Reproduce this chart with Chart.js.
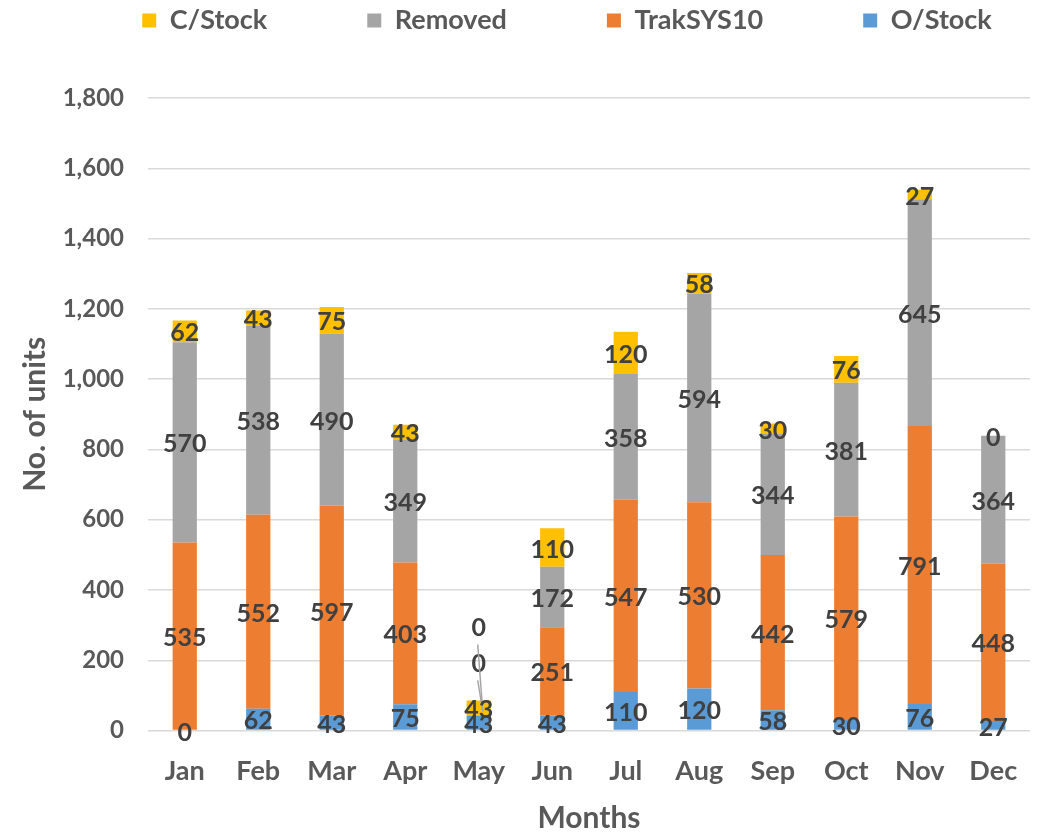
<!DOCTYPE html>
<html>
<head>
<meta charset="utf-8">
<script src="https://cdn.jsdelivr.net/npm/chart.js@4"></script>
<style>
  html, body { margin: 0; padding: 0; background: #fff; }
  #wrap { width: 1040px; height: 833px; }
</style>
</head>
<body>
<div id="wrap"><canvas id="chart" width="1040" height="833"></canvas></div>
<script>
const months = ['Jan', 'Feb', 'Mar', 'Apr', 'May', 'Jun', 'Jul', 'Aug', 'Sep', 'Oct', 'Nov', 'Dec'];
const oStock   = [0, 62, 43, 75, 43, 43, 110, 120, 58, 30, 76, 27];
const trakSys  = [535, 552, 597, 403, 0, 251, 547, 530, 442, 579, 791, 448];
const removed  = [570, 538, 490, 349, 0, 172, 358, 594, 344, 381, 645, 364];
const cStock   = [62, 43, 75, 43, 43, 110, 120, 58, 30, 76, 27, 0];
const yTicks   = [0, 200, 400, 600, 800, 1000, 1200, 1400, 1600, 1800];

const FONT = 'Lato, "Open Sans", sans-serif';
const TEXT = '#595959';
const LEGEND_PAD = 100;

// zero-height labels in May sit on top of each other, Excel lifts them with leader lines
const liftedLabels = { '1-4': 54, '2-4': 90 };

const segLabels = {
    id: 'segLabels',
    afterDatasetsDraw(chart) {
        const ctx = chart.ctx;
        ctx.save();
        ctx.font = 'bold 25px ' + FONT;
        ctx.fillStyle = '#404040';
        ctx.textAlign = 'center';
        ctx.textBaseline = 'middle';
        chart.data.datasets.forEach((ds, di) => {
            const meta = chart.getDatasetMeta(di);
            meta.data.forEach((bar, i) => {
                let y = (bar.y + bar.base) / 2 + 2;
                const lift = liftedLabels[di + '-' + i];
                if (lift) {
                    const ly = y - lift;
                    ctx.strokeStyle = '#a6a6a6';
                    ctx.lineWidth = 1.5;
                    ctx.beginPath();
                    ctx.moveTo(bar.x - 1, ly + 17);
                    ctx.lineTo(bar.x + 4, y - 6);
                    ctx.stroke();
                    y = ly;
                }
                ctx.fillText(ds.data[i], bar.x, y);
            });
        });
        ctx.restore();
    }
};

// big item spacing also pushes the legend down and wraps it, so keep one row,
// pull it back up and keep the gap to the plot
const legendSpacing = {
    id: 'legendSpacing',
    beforeInit(chart) {
        const fit = chart.legend.fit;
        chart.legend.fit = function () {
            this.maxWidth += 80;
            fit.call(this);
            this.height += 54;
        };
    },
    afterLayout(chart) {
        // widen to the right so the last item stays on the row, net shift ~46px
        chart.legend.left += 6;
        chart.legend.right += 86;
    }
};

new Chart(document.getElementById('chart'), {
    type: 'bar',
    data: {
        labels: months,
        datasets: [
            { label: 'O/Stock', data: oStock, backgroundColor: '#5B9BD5' },
            { label: 'TrakSYS10', data: trakSys, backgroundColor: '#ED7D31' },
            { label: 'Removed', data: removed, backgroundColor: '#A5A5A5' },
            { label: 'C/Stock', data: cStock, backgroundColor: '#FFC000' }
        ]
    },
    options: {
        responsive: false,
        animation: false,
        layout: { padding: { left: 12, right: 10, top: 7 - LEGEND_PAD, bottom: 0 } },
        datasets: { bar: { barPercentage: 0.33, categoryPercentage: 1 } },
        plugins: {
            legend: {
                reverse: true,
                labels: {
                    color: TEXT,
                    font: { family: FONT, size: 27, weight: 'bold' },
                    boxWidth: 14,
                    boxHeight: 14,
                    padding: LEGEND_PAD
                }
            },
            tooltip: { enabled: false }
        },
        scales: {
            x: {
                stacked: true,
                grid: { display: false },
                border: { display: false },
                ticks: { color: TEXT, font: { family: FONT, size: 27, weight: 'bold' }, padding: 16 },
                title: {
                    display: true, text: 'Months', color: TEXT,
                    font: { family: FONT, size: 30, weight: 'bold', lineHeight: 1 },
                    padding: { top: 0, bottom: 0 }
                }
            },
            y: {
                stacked: true,
                min: 0,
                max: 1800,
                afterBuildTicks: (axis) => { axis.ticks = yTicks.map(v => ({ value: v })); },
                afterFit: (axis) => { axis.width = 136; },
                grid: { color: '#d9d9d9', lineWidth: 1.5, drawTicks: false },
                border: { display: false },
                ticks: {
                    color: TEXT,
                    font: { family: FONT, size: 24, weight: 'bold' },
                    padding: 24,
                    callback: (v) => v.toLocaleString('en-US')
                },
                title: {
                    display: true, text: 'No. of units', color: TEXT,
                    font: { family: FONT, size: 30, weight: 'bold', lineHeight: 1 },
                    padding: 8
                }
            }
        }
    },
    plugins: [segLabels, legendSpacing]
});
</script>
</body>
</html>
